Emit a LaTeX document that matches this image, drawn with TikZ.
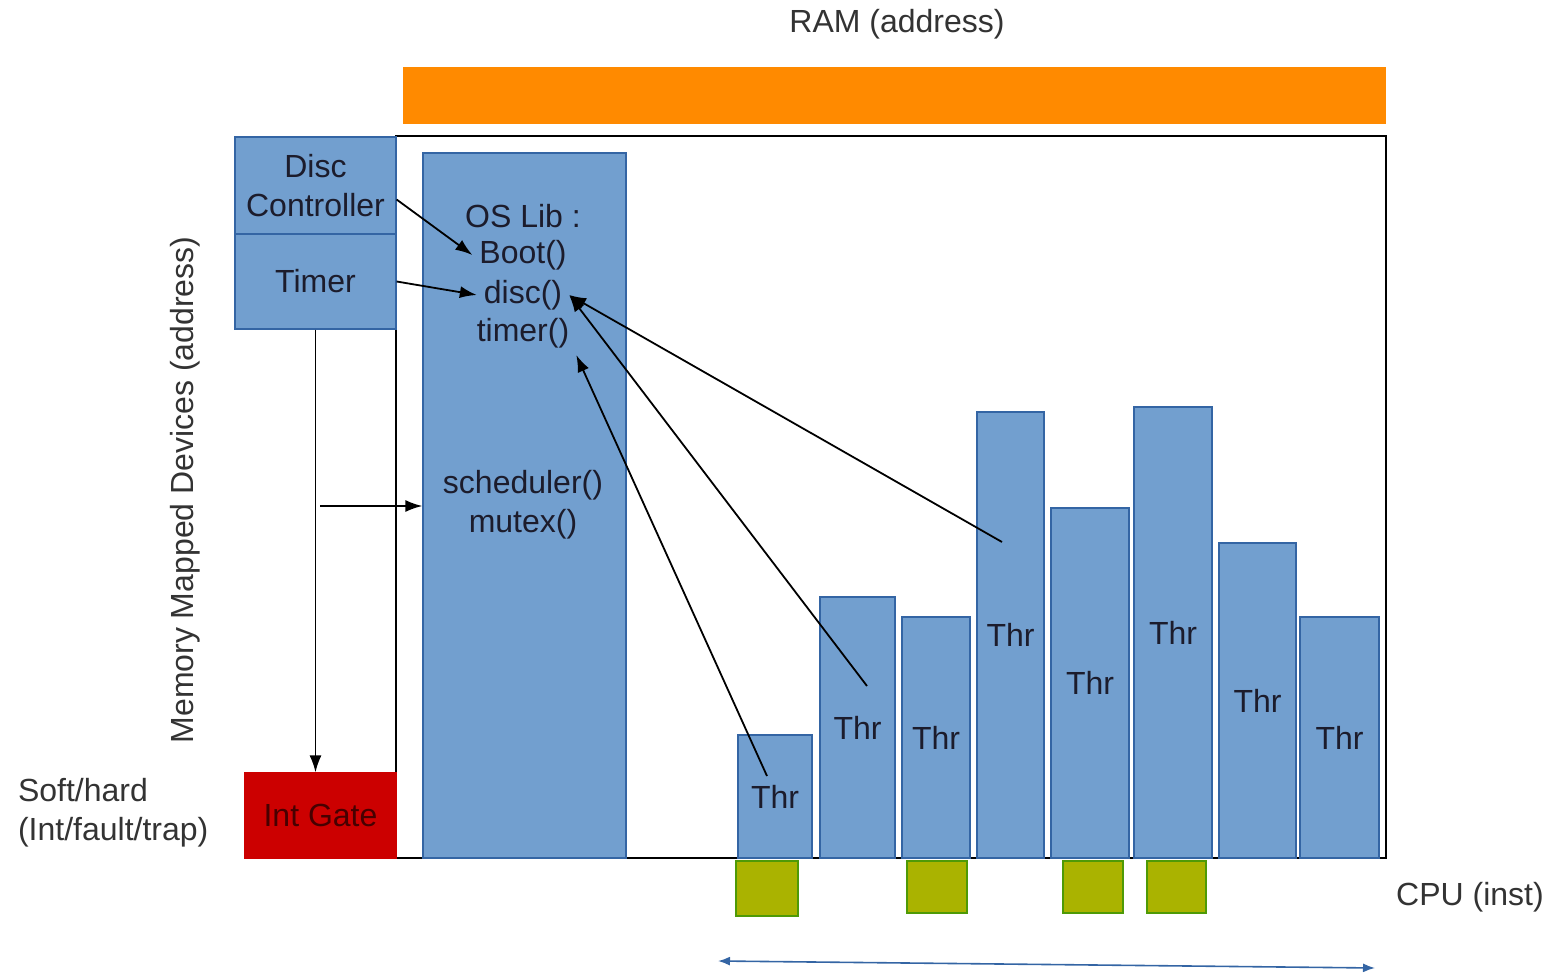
\documentclass[tikz,border=0pt]{standalone}
\usepackage{fontspec}
\setmainfont{Liberation Sans}
\usetikzlibrary{arrows.meta}
\definecolor{boxblue}{HTML}{729FCF}
\definecolor{boxedge}{HTML}{3465A4}
\definecolor{ramorange}{HTML}{FF8A00}
\definecolor{gatered}{HTML}{CC0000}
\definecolor{cpugreen}{HTML}{AAB300}
\definecolor{cpuedge}{HTML}{4E9A06}
\definecolor{ink}{HTML}{1C1C2C}
\begin{document}
\begin{tikzpicture}[
  x=0.5pt,y=-0.5pt,
  every node/.style={font=\fontsize{16}{19.5}\selectfont,text=ink},
  blk/.style={draw=boxedge,fill=boxblue,line width=0.6pt,inner sep=0pt},
  cpu/.style={draw=cpuedge,fill=cpugreen,line width=0.6pt,inner sep=0pt},
  call/.style={draw=black,line width=0.9pt,-{Latex[length=8.5pt,width=6pt]}},
  timeline/.style={draw=boxedge,line width=0.8pt,{Latex[length=6pt,width=4.5pt]}-{Latex[length=6pt,width=4.5pt]}},
  outer/.style={text=black!80}]
  \useasboundingbox (0,0) rectangle (1555,974);

  \fill[ramorange] (403,67) rectangle (1386,124);
  \node[outer] (ramlbl) at (897,24) {RAM (address)};
  \draw[line width=1pt] (396,136) rectangle (1386,858);

  \node[blk,minimum width=80.5pt,minimum height=48.5pt,align=center] (disc) at (315.5,185.5) {Disc\\Controller};
  \node[blk,minimum width=80.5pt,minimum height=47.5pt] (timer) at (315.5,281.5) {Timer};
  \node[draw=gatered,fill=gatered,line width=0.6pt,minimum width=75.5pt,minimum height=42.5pt,text=black!65!gatered] (gate) at (320.5,815.5) {Int Gate};

  \node[blk,minimum width=101.5pt,minimum height=352.5pt] (oslib) at (524.5,505.5) {};
  \node (oshead) at (523,216) {OS Lib :};
  \node (boot) at (523,255) {Boot()};
  \node (discfn) at (523,295) {disc()};
  \node (timerfn) at (523,333) {timer()};
  \node[align=center] (sched) at (523,505) {scheduler()\\mutex()};

  \foreach \i/\l/\r/\t in {1/738/812/735, 2/820/895/597, 3/902/970/617, 4/977/1044/412,
                           5/1051/1129/508, 6/1134/1212/407, 7/1219/1296/543, 8/1300/1379/617}
  {
    \pgfmathsetmacro\w{(\r-\l)/2}
    \pgfmathsetmacro\h{(858-\t)/2}
    \node[blk,minimum width=\w pt,minimum height=\h pt] (thr\i) at ({(\l+\r)/2},{(\t+858)/2}) {Thr};
  }

  \foreach \i/\l/\r/\b in {1/736/798/916, 2/907/967/913, 3/1063/1123/913, 4/1147/1206/913}
  {
    \pgfmathsetmacro\w{(\r-\l)/2}
    \pgfmathsetmacro\h{(\b-861)/2}
    \node[cpu,minimum width=\w pt,minimum height=\h pt] (cpu\i) at ({(\l+\r)/2},{(\b+861)/2}) {};
  }
  \node[outer] (cpulbl) at (1470,897) {CPU (inst)};

  \node[outer,rotate=90] (mmio) at (185,490) {Memory Mapped Devices (address)};
  \node[outer,align=left,anchor=west] (trap) at (11,813) {Soft/hard\\(Int/fault/trap)};

  \draw[call] (disc.east) ++(0,14) -- (boot.west);
  \draw[call] (timer.east) -- (discfn.west);
  \draw[call] (timer.south) -- (timer.south |- gate.north);
  \coordinate (fork) at (320,506);
  \draw[call] (fork) -- (fork -| oslib.west);

  \coordinate (from1) at (767,776);
  \coordinate (from2) at (867,686);
  \coordinate (from4) at (1002,542);
  \draw[call] (from1) -- (timerfn.south east);
  \draw[call] (from2) -- (discfn.east);
  \draw[call] (from4) -- (discfn.east);

  \coordinate (tleft) at (718,961);
  \coordinate (tright) at (1375,968);
  \draw[timeline] (tleft) -- (tright);
\end{tikzpicture}
\end{document}
